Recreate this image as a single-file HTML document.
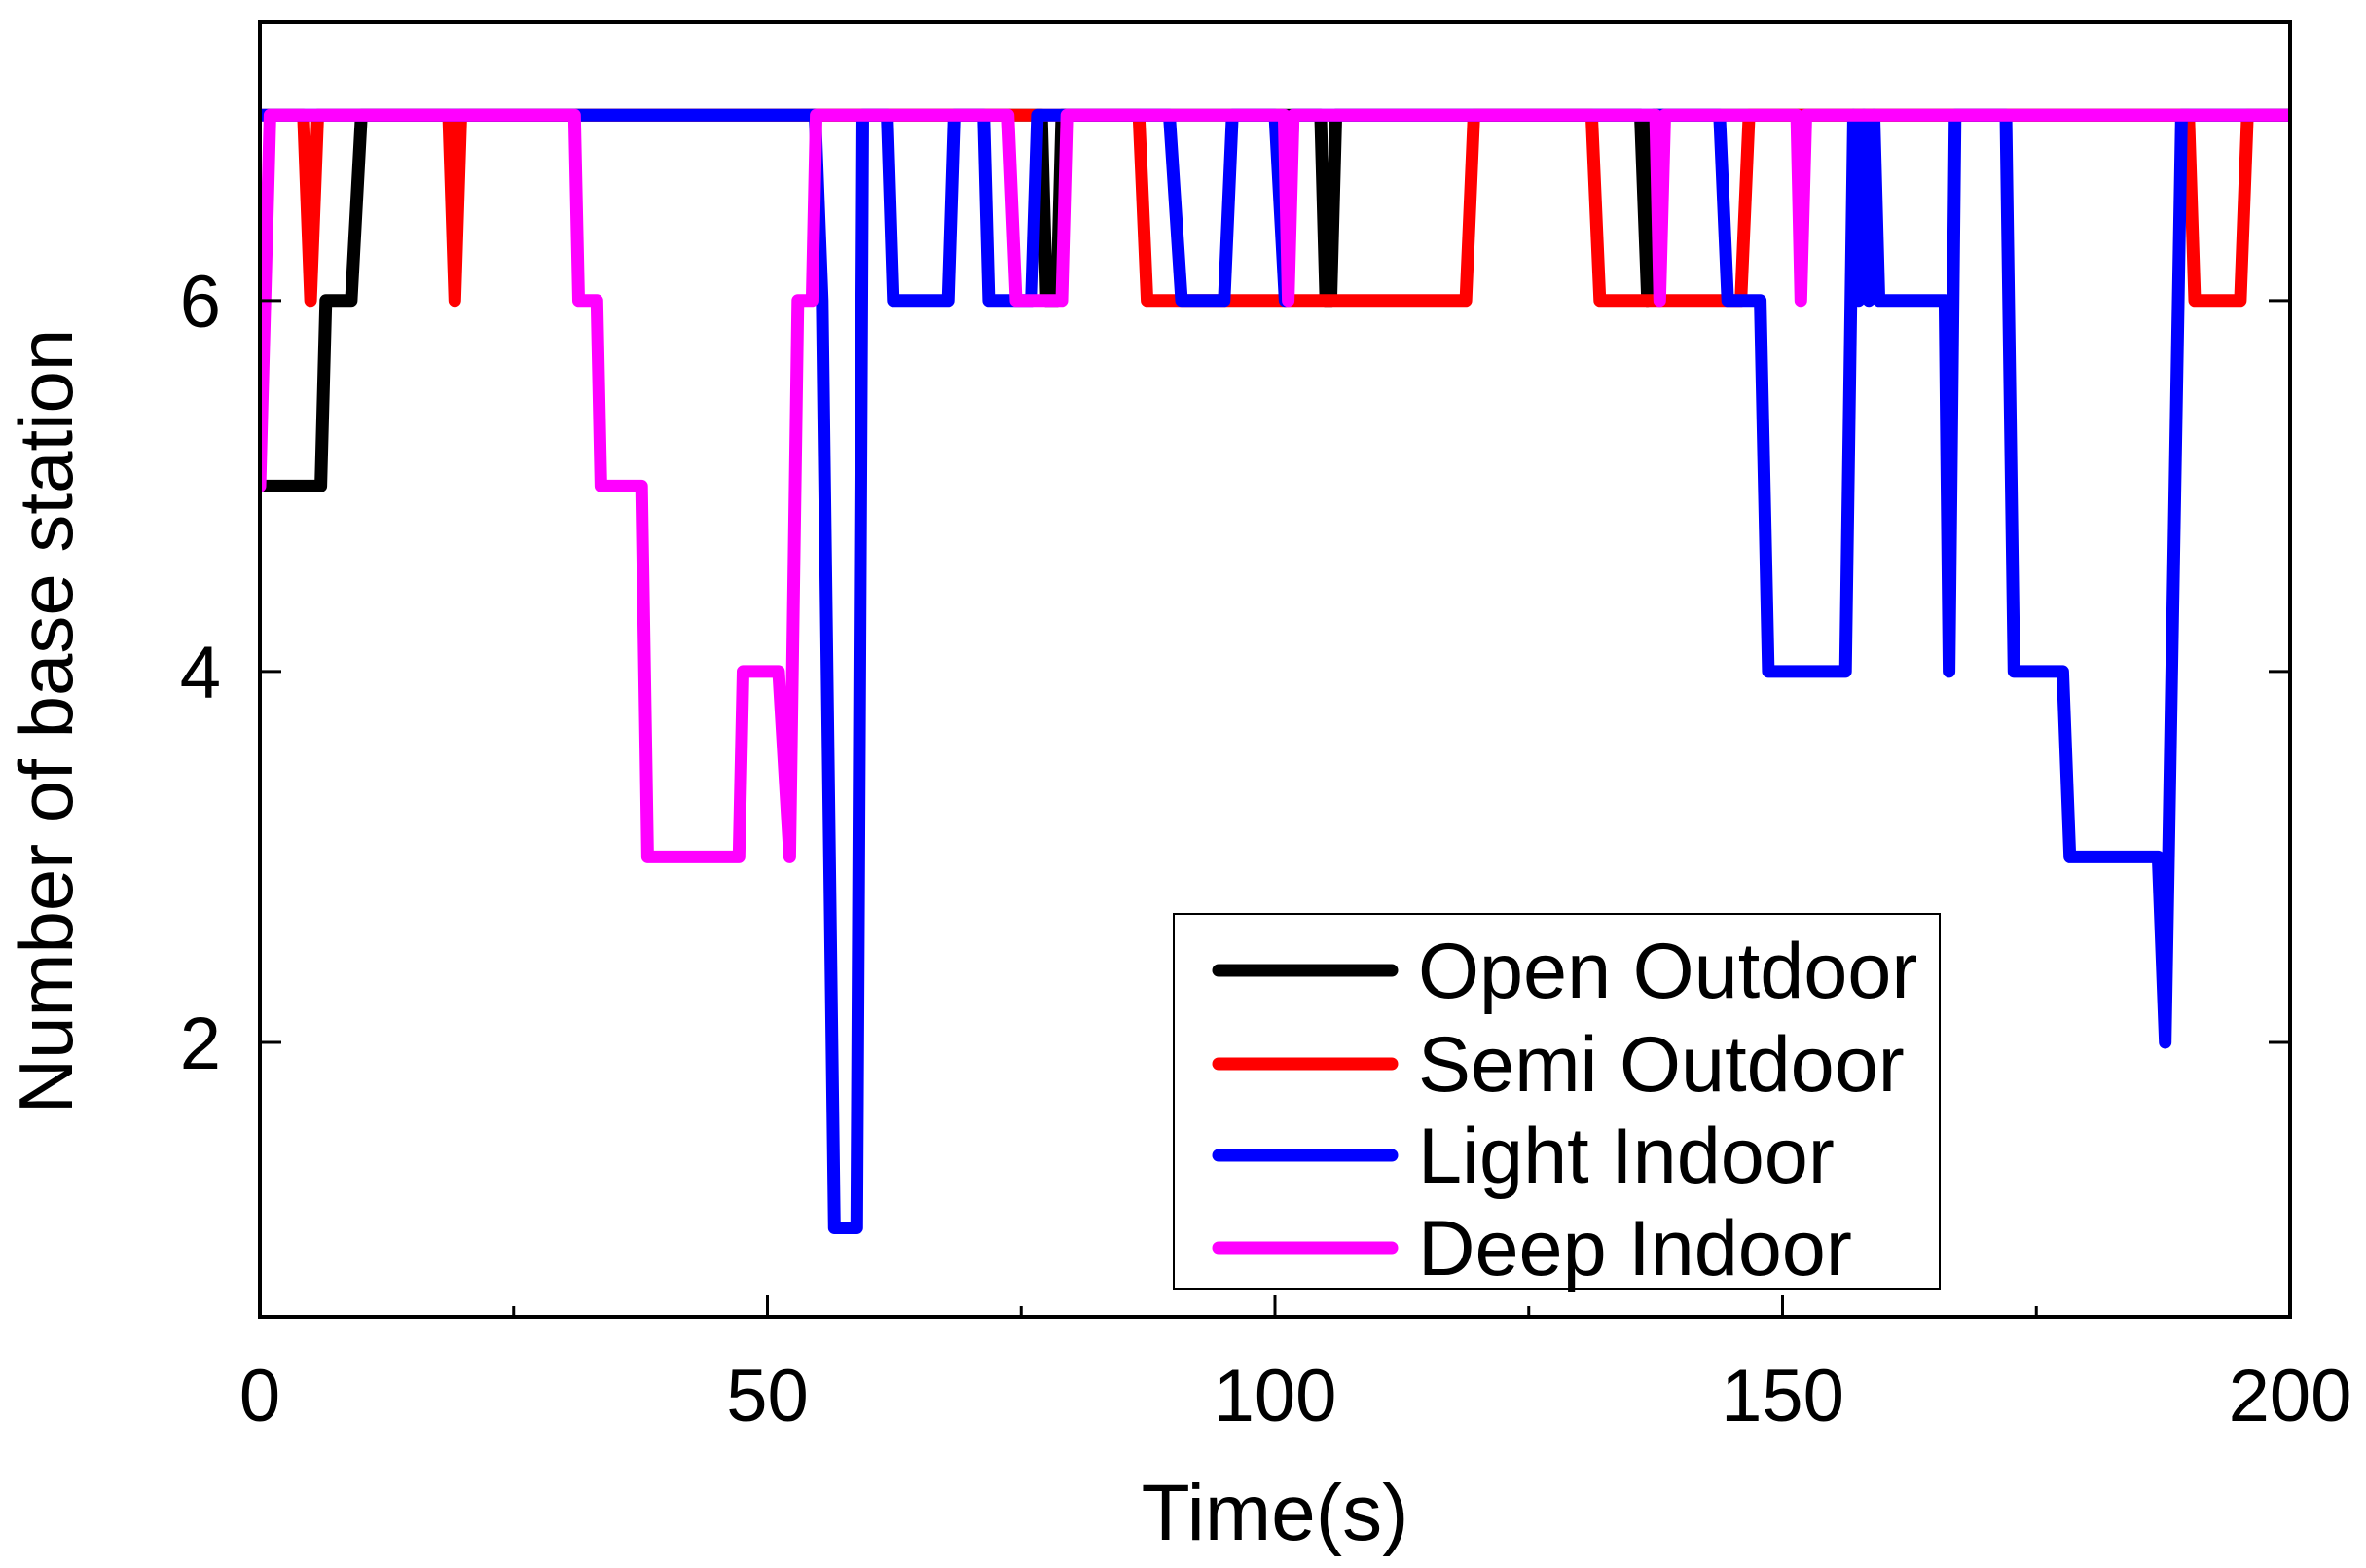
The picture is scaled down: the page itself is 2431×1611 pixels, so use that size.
<!DOCTYPE html>
<html><head><meta charset="utf-8"><style>
html,body{margin:0;padding:0;background:#fff;}
svg{display:block;font-family:"Liberation Sans",Arial,sans-serif;}
</style></head><body>
<svg id="chart" width="2431" height="1611" viewBox="0 0 2431 1611" xmlns="http://www.w3.org/2000/svg">
<defs><clipPath id="clip"><rect x="267" y="23" width="2086" height="1330"/></clipPath></defs>
<g id="series" clip-path="url(#clip)"></g>
<rect x="267" y="23" width="2086" height="1330" fill="none" stroke="#000" stroke-width="4"/>
<g id="axes"></g>
<text x="1310" y="1582" font-size="82" text-anchor="middle">Time(s)</text>
<text transform="translate(74,741) rotate(-90)" font-size="78" text-anchor="middle">Number of base station</text>
<g id="legend">
<rect x="1206" y="939" width="787" height="385" fill="#fff" stroke="#000" stroke-width="2"/>
</g>
</svg>
<script>
const seriesNames = ["Open Outdoor","Semi Outdoor","Light Indoor","Deep Indoor"];
const seriesColors = ["#000000","#ff0000","#0000ff","#ff00ff"];
const openT = [0,1,6,6.5,9,10,77,77.5,78.5,79,104.5,105,105.5,106,136,136.7,137.3,200];
const openV = [5,5,5,6,6,7,7,6,6,7,7,6,6,7,7,6,7,7];
const semiT = [0,4.3,5,5.7,18.6,19.2,19.8,86.6,87.4,118.8,119.6,131.2,132,145.9,146.7,190,190.6,195.1,195.8,200];
const semiV = [7,7,6,7,7,6,7,7,6,6,7,7,6,6,7,7,6,6,7,7];
const lightT = [0,54.7,55.4,56.6,58.8,59.4,61.8,62.4,67.8,68.4,71.3,71.8,76,76.6,89.6,90.8,95,95.8,100,101,101.8,143.8,144.6,147.8,148.6,156.2,157,157.5,158,158.5,159,159.5,160.3,166,166.4,167,172,172.8,177.6,178.3,187,187.7,189.3,200];
const lightV = [7,7,6,1,1,7,7,6,6,7,7,6,6,7,7,6,6,7,7,6,7,7,6,6,4,4,7,6,7,6,7,6,6,6,4,7,7,4,4,3,3,2,7,7];
const deepT = [0,1,31,31.4,33.2,33.6,37.6,38.2,47.2,47.6,51.1,52.2,53,54.4,54.8,73.7,74.5,79,79.5,100.9,101.3,101.8,137.5,137.9,138.4,151.4,151.8,152.3,200];
const deepV = [5,7,7,6,6,5,5,3,3,4,4,3,6,6,7,7,6,6,7,7,6,7,7,6,7,7,6,7,7];
const xTicks = [0,50,100,150,200];
const yTicks = [2,4,6];
const allT=[openT,semiT,lightT,deepT], allV=[openV,semiV,lightV,deepV];
const X0=267,X1=2353,Y0=1353,Y1=23,xmin=0,xmax=200,ymin=0.52,ymax=7.5;
const sx=t=>X0+(t-xmin)/(xmax-xmin)*(X1-X0);
const sy=v=>Y0-(v-ymin)/(ymax-ymin)*(Y0-Y1);
const NS="http://www.w3.org/2000/svg";
const sg=document.getElementById('series');
const slugs=["open-outdoor","semi-outdoor","light-indoor","deep-indoor"];
for(let i=0;i<4;i++){
  const p=document.createElementNS(NS,'polyline');
  p.setAttribute('points',allT[i].map((t,j)=>sx(t).toFixed(1)+','+sy(allV[i][j]).toFixed(1)).join(' '));
  p.setAttribute('fill','none');p.setAttribute('stroke',seriesColors[i]);
  p.setAttribute('stroke-width','13');p.setAttribute('stroke-linejoin','round');p.setAttribute('stroke-linecap','round');
  
  
  sg.appendChild(p);
}
const ax=document.getElementById('axes');
function line(x1,y1,x2,y2,w){const l=document.createElementNS(NS,'line');l.setAttribute('x1',x1);l.setAttribute('y1',y1);l.setAttribute('x2',x2);l.setAttribute('y2',y2);l.setAttribute('stroke','#000');l.setAttribute('stroke-width',w);return l;}
xTicks.forEach(t=>{
  const l=line(sx(t),Y0,sx(t),Y0-22,3);
  
  
  ax.appendChild(l);
  const tx=document.createElementNS(NS,'text');
  tx.setAttribute('x',sx(t));tx.setAttribute('y',1460);tx.setAttribute('font-size','76');tx.setAttribute('text-anchor','middle');
  tx.textContent=t;
  
  
  ax.appendChild(tx);
});
for(let t=25;t<200;t+=50){
  const l=line(sx(t),Y0,sx(t),Y0-11,3);
  
  
  ax.appendChild(l);
}
yTicks.forEach(v=>{
  const l=line(X0,sy(v),X0+22,sy(v),3);
  
  
  ax.appendChild(l);
  const r=line(X1,sy(v),X1-22,sy(v),3);
  
  
  ax.appendChild(r);
  const tx=document.createElementNS(NS,'text');
  tx.setAttribute('x',227);tx.setAttribute('y',sy(v)+27);tx.setAttribute('font-size','76');tx.setAttribute('text-anchor','end');
  tx.textContent=v;
  
  
  ax.appendChild(tx);
});
const lg=document.getElementById('legend');
const legY=[997,1093,1187,1282];
for(let i=0;i<4;i++){
  const g=document.createElementNS(NS,'g');
  
  
  const l=line(1252,legY[i],1430,legY[i],13);
  l.setAttribute('stroke',seriesColors[i]);l.setAttribute('stroke-linecap','round');
  g.appendChild(l);
  const tx=document.createElementNS(NS,'text');
  tx.setAttribute('x',1457);tx.setAttribute('y',legY[i]+28);tx.setAttribute('font-size','81');
  tx.textContent=seriesNames[i];
  g.appendChild(tx);
  lg.appendChild(g);
}
</script>
</body></html>
